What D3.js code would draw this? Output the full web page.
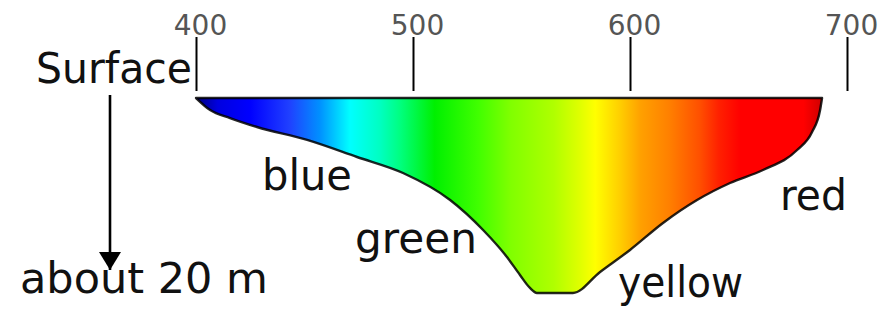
<!DOCTYPE html>
<html>
<head>
<meta charset="utf-8">
<script src="https://cdn.jsdelivr.net/npm/d3@7"></script>
<style>
  body { margin: 0; background: #fff; }
  svg { display: block; }
</style>
</head>
<body>
<div id="chart"></div>
<script>
// wavelength ticks along the top (nm)
var tickValues = [400, 500, 600, 700];

// outline of the light that gets through: wavelength (nm) and depth (m)
var outlineWave  = [400, 406.5, 415.7, 428.1, 451.2, 474.2, 495.4, 517.1, 532.3, 543.3, 549.3, 553.9, 557.1,
                    573.7, 586.2, 600, 615.2, 630.9, 646.1, 661.3, 677, 683.9, 687.6, 688.5];
var outlineDepth = [0, 1.4, 2.33, 3.37, 4.88, 6.86, 8.72, 11.86, 15.35, 18.49, 20.58, 22.09, 22.67,
                    22.67, 20.23, 17.67, 14.53, 11.86, 9.88, 8.37, 6.05, 3.95, 1.4, 0];

// spectrum colours by wavelength
var stopWave   = [400, 410, 425, 443, 457, 471, 485, 494, 510, 530, 545, 565, 577, 584, 595, 605, 618, 632, 641, 651, 680, 688.5];
var stopColour = ['#000080', '#0000e0', '#0000ff', '#2040ff', '#0090ff', '#00ffff', '#00ffc0', '#00ff80', '#00f000',
                  '#40ff00', '#80ff00', '#b0ff00', '#e0ff00', '#ffff00', '#ffd000', '#ffa000', '#ff8000', '#ff5000',
                  '#ff2000', '#ff0000', '#ff0000', '#d00000'];

// colour names and where they sit (wavelength, depth)
var colourNames = ['blue', 'green', 'yellow', 'red'];
var nameWave    = [430.4, 473.3, 594.5, 669.1];
var nameDepth   = [10.7, 18.0, 23.1, 13.0];

// depth labels on the left
var depthLabels = ['Surface', 'about 20 m'];
var depthValues = [0, 20];

var width = 888,
    height = 320;

var x = d3.scaleLinear().domain([400, 700]).range([196, 847]),
    y = d3.scaleLinear().domain([0, 20]).range([98, 270]);

var svg = d3.select('#chart').append('svg')
    .attr('width', width)
    .attr('height', height);

var defs = svg.append('defs');

// horizontal spectrum gradient
var grad = defs.append('linearGradient')
    .attr('id', 'spectrum')
    .attr('gradientUnits', 'userSpaceOnUse')
    .attr('x1', x(400)).attr('x2', x(688.5))
    .attr('y1', 0).attr('y2', 0);

grad.selectAll('stop')
    .data(stopWave)
    .enter().append('stop')
    .attr('offset', function (d) { return (d - 400) / (688.5 - 400); })
    .attr('stop-color', function (d, i) { return stopColour[i]; });

// the coloured shape
var pts = outlineWave.map(function (w, i) { return [w, outlineDepth[i]]; });

var line = d3.line()
    .x(function (d) { return x(d[0]); })
    .y(function (d) { return y(d[1]); })
    .curve(d3.curveMonotoneX);

svg.append('path')
    .attr('d', line(pts) + 'Z')
    .attr('fill', 'url(#spectrum)')
    .attr('stroke', '#000')
    .attr('stroke-opacity', 0.85)
    .attr('stroke-width', 2.4)
    .attr('stroke-linejoin', 'round');

// wavelength axis on top, no domain line
var axis = svg.append('g')
    .attr('transform', 'translate(0,91)')
    .call(d3.axisTop(x).tickValues(tickValues).tickSize(54).tickPadding(2));

axis.select('.domain').remove();
axis.selectAll('.tick line')
    .attr('stroke', '#000')
    .attr('stroke-width', 2);
axis.selectAll('.tick text')
    .attr('dx', 4)
    .attr('fill', '#555')
    .style('font-family', 'DejaVu Sans, sans-serif')
    .style('font-size', '28px');

// depth arrow, head drawn in user units
defs.append('marker')
    .attr('id', 'head')
    .attr('viewBox', '0 0 18 22')
    .attr('refX', 18).attr('refY', 11)
    .attr('markerWidth', 18).attr('markerHeight', 22)
    .attr('markerUnits', 'userSpaceOnUse')
    .attr('orient', 'auto')
    .append('path')
    .attr('d', 'M0,0 L18,11 L0,22 Z')
    .attr('fill', '#000');

svg.append('line')
    .attr('x1', 110).attr('x2', 110)
    .attr('y1', y(depthValues[0]) - 3)
    .attr('y2', y(depthValues[1]))
    .attr('stroke', '#000')
    .attr('stroke-width', 2.6)
    .attr('marker-end', 'url(#head)');

var textFont = 'DejaVu Sans, sans-serif';

// depth labels
svg.append('text')
    .attr('x', x(400) - 4)
    .attr('y', y(depthValues[0]) - 15)
    .attr('text-anchor', 'end')
    .attr('textLength', 156)
    .attr('lengthAdjust', 'spacingAndGlyphs')
    .style('font-family', textFont)
    .style('font-size', '42px')
    .attr('fill', '#111')
    .text(depthLabels[0]);

svg.append('text')
    .attr('x', 20)
    .attr('y', y(depthValues[1]) + 23)
    .attr('textLength', 248)
    .attr('lengthAdjust', 'spacingAndGlyphs')
    .style('font-family', textFont)
    .style('font-size', '42px')
    .attr('fill', '#111')
    .text(depthLabels[1]);

// colour names
var nameWidths = [90, 122, 125, 67];

svg.selectAll('text.name')
    .data(colourNames)
    .enter().append('text')
    .attr('class', 'name')
    .attr('x', function (d, i) { return x(nameWave[i]); })
    .attr('y', function (d, i) { return y(nameDepth[i]); })
    .attr('textLength', function (d, i) { return nameWidths[i]; })
    .attr('lengthAdjust', 'spacingAndGlyphs')
    .style('font-family', textFont)
    .style('font-size', '42px')
    .attr('fill', '#111')
    .text(function (d) { return d; });
</script>
</body>
</html>
